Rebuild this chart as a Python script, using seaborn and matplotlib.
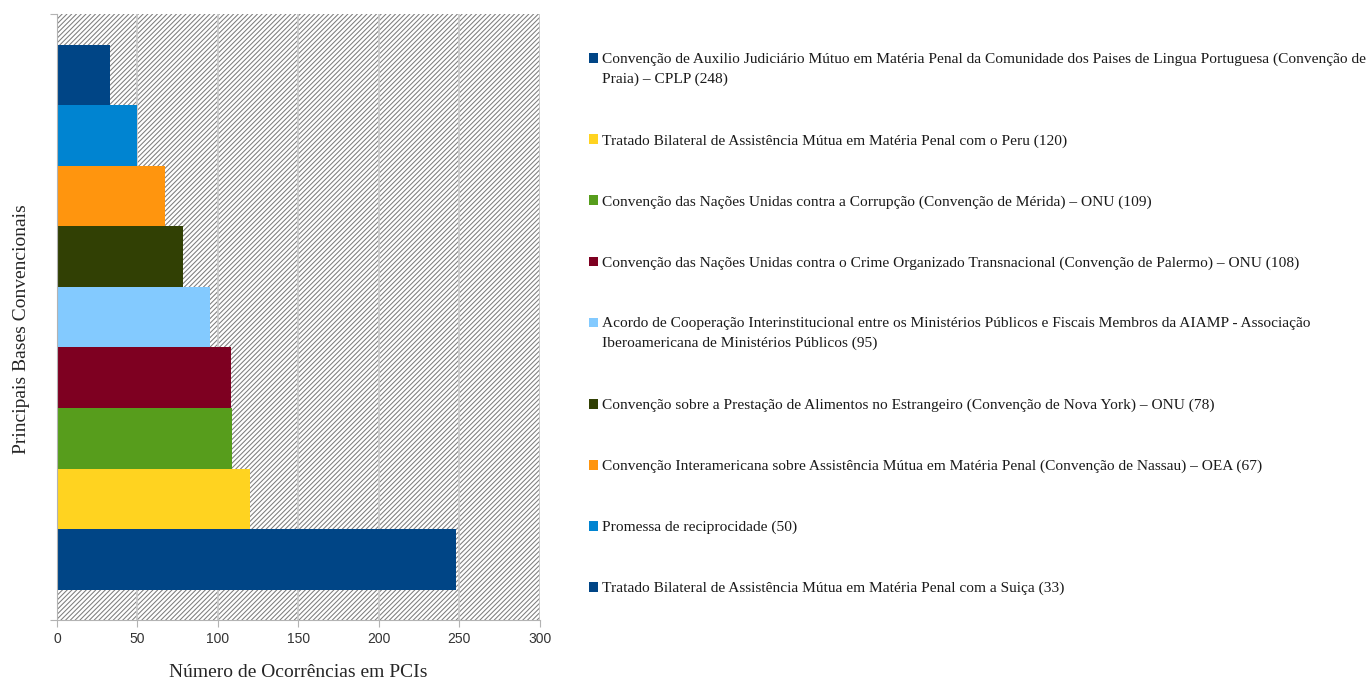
import matplotlib
matplotlib.use("Agg")
import matplotlib.pyplot as plt
import seaborn as sns
from matplotlib.patches import Rectangle

# legend order (top to bottom); bars are drawn in reverse (largest at the bottom)
names = [
    "Convenção de Auxilio Judiciário Mútuo em Matéria Penal da Comunidade dos Paises de Lingua Portuguesa (Convenção de\nPraia) – CPLP",
    "Tratado Bilateral de Assistência Mútua em Matéria Penal com o Peru",
    "Convenção das Nações Unidas contra a Corrupção (Convenção de Mérida) – ONU",
    "Convenção das Nações Unidas contra o Crime Organizado Transnacional (Convenção de Palermo) – ONU",
    "Acordo de Cooperação Interinstitucional entre os Ministérios Públicos e Fiscais Membros da AIAMP - Associação\nIberoamericana de Ministérios Públicos",
    "Convenção sobre a Prestação de Alimentos no Estrangeiro (Convenção de Nova York) – ONU",
    "Convenção Interamericana sobre Assistência Mútua em Matéria Penal (Convenção de Nassau) – OEA",
    "Promessa de reciprocidade",
    "Tratado Bilateral de Assistência Mútua em Matéria Penal com a Suiça",
]
values = [248, 120, 109, 108, 95, 78, 67, 50, 33]
colors = ["#004586", "#FFD320", "#579D1C", "#7E0021", "#83CAFF",
          "#314004", "#FF950E", "#0084D1", "#004586"]
x_ticks = [0, 50, 100, 150, 200, 250, 300]

sns.set_style("white")
plt.rcParams["font.family"] = ["Liberation Serif", "DejaVu Serif"]
plt.rcParams["hatch.linewidth"] = 0.75

fig = plt.figure(figsize=(13.72, 6.79), dpi=100)
ax = fig.add_axes([0.0415, 0.087, 0.352, 0.892])

# hatched plot background
ax.add_patch(Rectangle((0, 0), 1, 1, transform=ax.transAxes, facecolor="white",
                       edgecolor="#7d7d7d", hatch="///////", lw=0, zorder=0))

order = names[::-1]
sns.barplot(x=values, y=names, hue=names, order=order, hue_order=names,
            palette=colors, width=1.0, saturation=1, legend=False,
            orient="h", ax=ax, linewidth=0, zorder=2)

ax.set_xlim(0, 300)
ax.set_xticks(x_ticks)
ax.set_ylim(len(values), -1)
ax.set_yticks([-1, len(values)])
ax.set_yticklabels(["", ""])
ax.set_axisbelow(True)
ax.xaxis.grid(True, color="#c8c8c8", linewidth=1.2, zorder=1)
ax.yaxis.grid(False)
for side in ["top", "right"]:
    ax.spines[side].set_visible(False)
for side in ["left", "bottom"]:
    ax.spines[side].set_color("#b3b3b3")
ax.tick_params(axis="both", length=5, color="#b3b3b3", bottom=True, left=True)
for lab in ax.get_xticklabels():
    lab.set_family(["Liberation Sans", "DejaVu Sans"])
    lab.set_fontsize(10)
    lab.set_color("#333333")

ax.set_xlabel("Número de Ocorrências em PCIs", fontsize=14, labelpad=13)
ax.set_ylabel("Principais Bases Convencionais", fontsize=14)
ax.yaxis.set_label_coords(-0.056, 0.48)

# legend, drawn as entries down the right side
y = 1 - 53 / 679
step = 61 / 679
extra = 20.5 / 679
for name, val, col in zip(names, values, colors):
    fig.patches.append(Rectangle((589 / 1372, y - 10 / 679), 9 / 1372, 10 / 679,
                                 transform=fig.transFigure, facecolor=col,
                                 edgecolor="none", figure=fig))
    fig.text(602 / 1372, y, f"{name} ({val})", ha="left", va="top",
             fontsize=11.1, color="#1a1a1a", linespacing=1.55,
             transform=fig.transFigure)
    y -= step + extra * name.count("\n")

fig.savefig("out.png", dpi=100)
